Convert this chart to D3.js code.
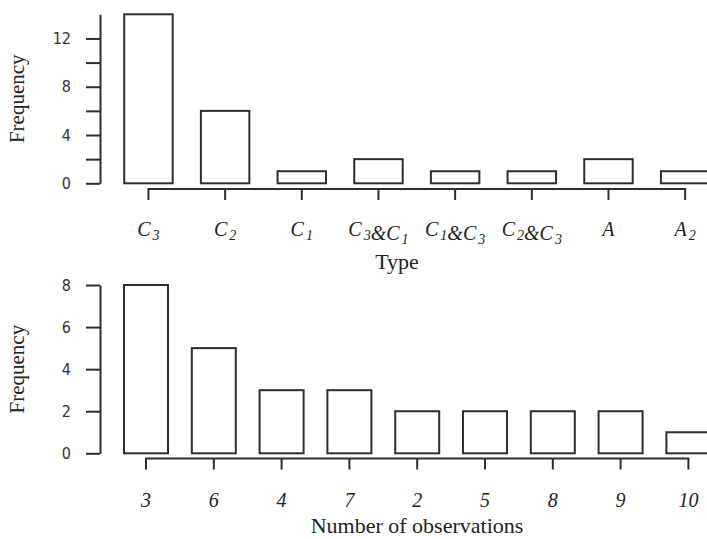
<!DOCTYPE html>
<html><head><meta charset="utf-8">
<script src="https://cdn.jsdelivr.net/npm/d3@7"></script>
<style>body{margin:0;background:#fff}svg{display:block}</style>
</head><body>
<svg id="c" width="707" height="539"></svg>
<script>
// ---- data ----
const typeCategories = ["C3", "C2", "C1", "C3&C1", "C1&C3", "C2&C3", "A", "A2"];
const typeCounts = [14, 6, 1, 2, 1, 1, 2, 1];
const typeYTicks = [0, 2, 4, 6, 8, 10, 12];
const typeYLabels = [0, 4, 8, 12];
const typeYMax = 14;

const obsCategories = ["3", "6", "4", "7", "2", "5", "8", "9", "10"];
const obsCounts = [8, 5, 3, 3, 2, 2, 2, 2, 1];
const obsYTicks = [0, 2, 4, 6, 8];
const obsYLabels = [0, 2, 4, 6, 8];
const obsYMax = 8;

const svg = d3.select("#c");
const INK = "#2e2e2e";
const serif = "'Liberation Serif','Times New Roman',serif";
const sans = "'DejaVu Sans Condensed','DejaVu Sans',sans-serif";

function panel(o) {
  const x = d3.scaleBand().domain(o.cats).range(o.xr).padding(o.pad);
  const y = d3.scaleLinear().domain([0, o.ymax]).range(o.yr);
  const g = svg.append("g");

  // bars
  g.selectAll("rect.bar").data(o.cats).enter().append("rect")
    .attr("x", d => x(d)).attr("width", x.bandwidth())
    .attr("y", (d, i) => y(o.vals[i])).attr("height", (d, i) => y(0) - y(o.vals[i]))
    .attr("fill", "#fff").attr("stroke", INK).attr("stroke-width", 2);

  // y axis
  const ya = d3.axisLeft(y).tickValues(o.yticks).tickSize(14).tickSizeOuter(0).tickPadding(15)
    .tickFormat(v => o.ylabels.includes(v) ? String(v) : "");
  const yg = g.append("g").attr("transform", `translate(${o.yAxisX},0)`).call(ya);
  yg.selectAll("path,line").attr("stroke", INK).attr("stroke-width", 2);
  yg.selectAll("text").attr("font-family", sans).attr("font-size", 16).attr("fill", "#333");

  // x axis
  const xa = d3.axisBottom(x).tickSize(11).tickFormat("");
  const xg = g.append("g").attr("transform", `translate(0,${o.xAxisY})`).call(xa);
  xg.select(".domain").remove();
  xg.selectAll("line").attr("stroke", INK).attr("stroke-width", 2);
  const c0 = x(o.cats[0]) + x.bandwidth() / 2, c1 = x(o.cats[o.cats.length - 1]) + x.bandwidth() / 2;
  xg.append("line").attr("x1", c0 - 1).attr("x2", c1 + 1).attr("y1", 0).attr("y2", 0)
    .attr("stroke", INK).attr("stroke-width", 2);

  // category labels (italic, digits after letters as subscripts)
  o.cats.forEach(cat => {
    const t = g.append("text").attr("x", x(cat) + x.bandwidth() / 2).attr("y", o.labY)
      .attr("text-anchor", "middle").attr("font-family", serif).attr("font-style", "italic")
      .attr("font-size", 20).attr("fill", "#222");
    if (o.sub) {
      const parts = cat.match(/[A-Z]\d?|&/g);
      parts.forEach(p => {
        if (p === "&") { t.append("tspan").text("&"); return; }
        t.append("tspan").text(p[0]);
        if (p.length > 1) {
          t.append("tspan").attr("dx", 2).attr("dy", 4).attr("font-size", 14).text(p.slice(1));
          t.append("tspan").attr("dy", -4).text("");
        }
      });
    } else {
      t.text(cat);
    }
  });

  // axis titles
  g.append("text").attr("x", o.titleX).attr("y", o.titleY)
    .attr("text-anchor", "middle").attr("font-family", serif).attr("font-size", 22).attr("fill", "#222")
    .text(o.title);
  g.append("text").attr("transform", `translate(24,${(o.yr[0] + o.yr[1]) / 2}) rotate(-90)`)
    .attr("text-anchor", "middle").attr("font-family", serif).attr("font-size", 21).attr("fill", "#222")
    .text("Frequency");
}

panel({
  cats: typeCategories, vals: typeCounts, ymax: typeYMax, yticks: typeYTicks, ylabels: typeYLabels,
  xr: [96, 737.6], pad: 0.368, yr: [183.3, 14.3], yAxisX: 100, xAxisY: 189,
  labY: 236, sub: true, title: "Type", titleX: 397, titleY: 269
});
panel({
  cats: obsCategories, vals: obsCounts, ymax: obsYMax, yticks: obsYTicks, ylabels: obsYLabels,
  xr: [100.2, 734.2], pad: 0.351, yr: [453.3, 285], yAxisX: 100, xAxisY: 458.5,
  labY: 507, sub: false, title: "Number of observations", titleX: 417, titleY: 533
});
</script>
</body></html>
